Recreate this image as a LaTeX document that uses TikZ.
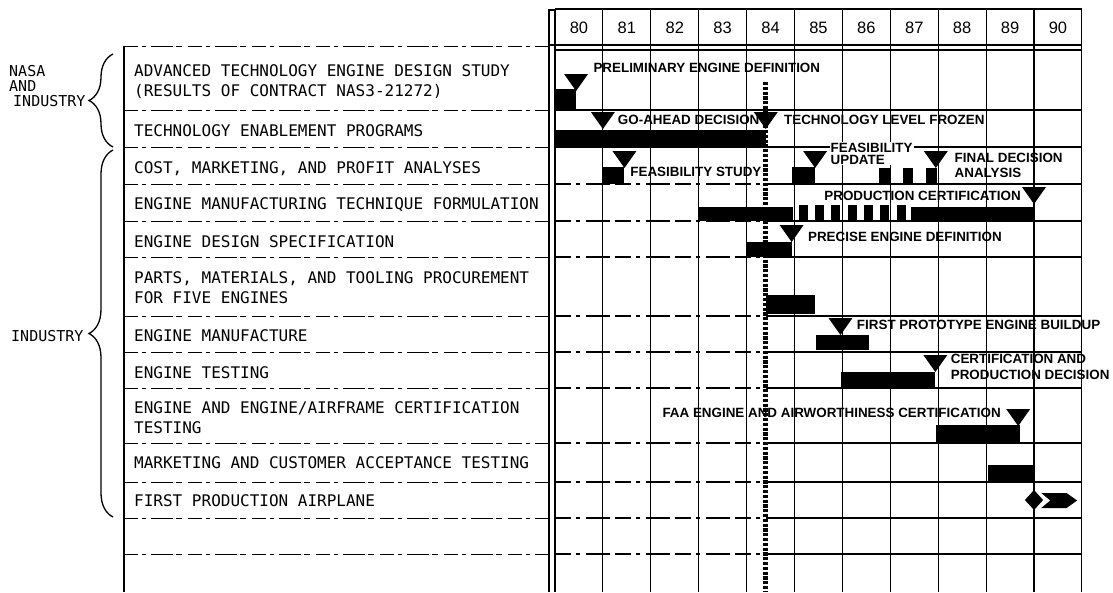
\documentclass[tikz,border=0pt]{standalone}
\usepackage{fontspec}
\setmainfont{Liberation Sans}
\newfontfamily\monof{DejaVu Sans Mono}
\usetikzlibrary{decorations.pathreplacing}
\tikzset{
  rowtext/.style={font=\monof\fontsize{16}{20}\selectfont, anchor=base west, align=left, inner sep=0pt},
  sidetext/.style={font=\monof\fontsize{15}{15}\selectfont, anchor=base west, align=left, inner sep=0pt},
  yrtext/.style={font=\fontsize{16.5}{16.5}\selectfont, anchor=base, inner sep=0pt},
  lbl/.style={font=\bfseries\fontsize{13.4}{15}\selectfont, anchor=base west, align=left, inner sep=0pt},
  gline/.style={line width=1.1pt},
  gdash/.style={line width=1.1pt, dash pattern=on 16pt off 5pt on 4pt off 6pt on 24pt off 5pt},
  tline/.style={line width=1.1pt},
  tdash/.style={line width=1pt, dash pattern=on 14pt off 4pt on 4pt off 5pt on 22pt off 3pt on 6pt off 6pt},
  brc/.style={line width=1.3pt, decorate, decoration={brace, amplitude=24pt}},
  freeze/.style={line width=5pt, dash pattern=on 3.2pt off 1.6pt},
  ms/.pic={\fill (-12pt,17pt) -- (12pt,17pt) -- (0pt,0pt) -- cycle;}
}
\begin{document}
\begin{tikzpicture}[x=1pt,y=-1pt]
\useasboundingbox (0,0) rectangle (1113,592);

% ---- left table ----
\draw[tline] (124,46) -- (124,592);
\foreach \yy in {46,110,147,184,221,257,316,352,388,443,482,518,554}
  \draw[tdash] (124,\yy) -- (549,\yy);
\draw[gline] (549,592) -- (549,10) -- (555,10) -- (555,592);

\node[rowtext] (r1) at (134,96) {ADVANCED TECHNOLOGY ENGINE DESIGN STUDY\\(RESULTS OF CONTRACT NAS3-21272)};
\node[rowtext] (r2) at (134,136) {TECHNOLOGY ENABLEMENT PROGRAMS};
\node[rowtext] (r3) at (134,173) {COST, MARKETING, AND PROFIT ANALYSES};
\node[rowtext] (r4) at (134,209) {ENGINE MANUFACTURING TECHNIQUE FORMULATION};
\node[rowtext] (r5) at (134,247) {ENGINE DESIGN SPECIFICATION};
\node[rowtext] (r6) at (134,303) {PARTS, MATERIALS, AND TOOLING PROCUREMENT\\FOR FIVE ENGINES};
\node[rowtext] (r7) at (134,341) {ENGINE MANUFACTURE};
\node[rowtext] (r8) at (134,378) {ENGINE TESTING};
\node[rowtext] (r9) at (134,433) {ENGINE AND ENGINE/AIRFRAME CERTIFICATION\\TESTING};
\node[rowtext] (r10) at (134,468) {MARKETING AND CUSTOMER ACCEPTANCE TESTING};
\node[rowtext] (r11) at (134,506) {FIRST PRODUCTION AIRPLANE};

% ---- side groups ----
\node[sidetext] (nasa) at (9,106) {NASA\\AND\\\hspace*{4pt}INDUSTRY};
\node[sidetext] (ind) at (11,341) {INDUSTRY};
\coordinate (b1a) at (113,147);
\coordinate (b1b) at (113,54);
\coordinate (b2a) at (113,517);
\coordinate (b2b) at (113,150);
\draw[brc] (b1a) -- (b1b);
\draw[brc] (b2a) -- (b2b);

% ---- chart ----
\begin{scope}[shift={(555,0)}, x=47.9pt]
  \draw[gline] (0,9) -- (11,9);
  \draw[gline] (-0.125,45) -- (11,45);
  \draw[gline] (0,50) -- (11,50);
  \foreach \c in {1,...,11} \draw[gline] (\c,9) -- (\c,592);
  \foreach \yy in {110,147} \draw[gline] (0,\yy) -- (11,\yy);
  \foreach \yy in {184,221,257,316,352,388,443,482,518,554} {
    \draw[gdash] (0,\yy) -- (4.4,\yy);
    \draw[gline] (4.4,\yy) -- (11,\yy);
  }
  \foreach \c/\t in {0/80,1/81,2/82,3/83,4/84,5/85,6/86,7/87,8/88,9/89,10/90}
    \node[yrtext] (yr\t) at (\c+0.5,33) {\t};

  % freeze line
  \coordinate (fz1) at (4.4,82);
  \coordinate (fz2) at (4.4,592);
  \draw[freeze] (fz1) -- (fz2);

  % row 1
  \fill (0,89) rectangle (0.44,110);
  \pic at (0.44,91) {ms};
  \node[lbl] (l1) at (0.8,72.7) {PRELIMINARY ENGINE DEFINITION};
  % row 2
  \fill (0,130) rectangle (4.4,147);
  \pic at (1.0,129) {ms};
  \pic at (4.4,129) {ms};
  \node[lbl] (l2) at (1.31,124.7) {GO-AHEAD DECISION};
  \node[lbl] (l3) at (4.78,124.7) {TECHNOLOGY LEVEL FROZEN};
  % row 3
  \fill (1.0,167) rectangle (1.45,184);
  \pic at (1.45,168) {ms};
  \node[lbl] (l4) at (1.57,176.7) {FEASIBILITY STUDY};
  \fill (4.94,167) rectangle (5.43,184);
  \pic at (5.43,168) {ms};
  \node[lbl, font=\bfseries\fontsize{13.4}{12}\selectfont, fill=white, inner sep=1pt] (l5) at (5.73,164) {FEASIBILITY\\UPDATE};
  \fill (6.76,168) rectangle (6.99,184);
  \fill (7.26,168) rectangle (7.48,184);
  \fill (7.75,168) rectangle (7.97,184);
  \pic at (7.95,168) {ms};
  \node[lbl] (l6) at (8.34,177.7) {FINAL DECISION\\ANALYSIS};
  % row 4
  \fill (3.0,207) rectangle (4.97,221);
  \foreach \b in {5.09,5.43,5.77,6.11,6.45,6.79,7.13}
    \fill (\b,205) rectangle (\b+0.19,221);
  \fill (7.43,207) rectangle (10.0,221);
  \pic at (10.0,204) {ms};
  \node[lbl] (l7) at (5.62,200.7) {PRODUCTION CERTIFICATION};
  % row 5
  \fill (3.98,242) rectangle (4.94,257);
  \pic at (4.94,242) {ms};
  \node[lbl] (l8) at (5.28,241.7) {PRECISE ENGINE DEFINITION};
  % row 6
  \fill (4.4,295) rectangle (5.43,314);
  % row 7
  \fill (5.44,335) rectangle (6.55,350);
  \pic at (5.96,335) {ms};
  \node[lbl] (l9) at (6.3,329.7) {FIRST PROTOTYPE ENGINE BUILDUP};
  % row 8
  \fill (5.97,372) rectangle (7.94,388);
  \pic at (7.94,372) {ms};
  \node[lbl, font=\bfseries\fontsize{13.4}{16}\selectfont] (l10) at (8.26,379.7) {CERTIFICATION AND\\PRODUCTION DECISION};
  % row 9
  \node[lbl] (l11) at (2.24,417.7) {FAA ENGINE AND AIRWORTHINESS CERTIFICATION};
  \fill (7.96,425) rectangle (9.7,443);
  \pic at (9.67,426) {ms};
  % row 10
  \fill (9.03,465) rectangle (10.02,482);
  % row 11
  \fill (10,490) -- (10.19,500) -- (10,510) -- (9.81,500) -- cycle;
  \fill (10.15,493) -- (10.68,493) -- (10.9,500.5) -- (10.68,508) -- (10.15,508) -- (10.34,500.5) -- cycle;
\end{scope}
\end{tikzpicture}
\end{document}
